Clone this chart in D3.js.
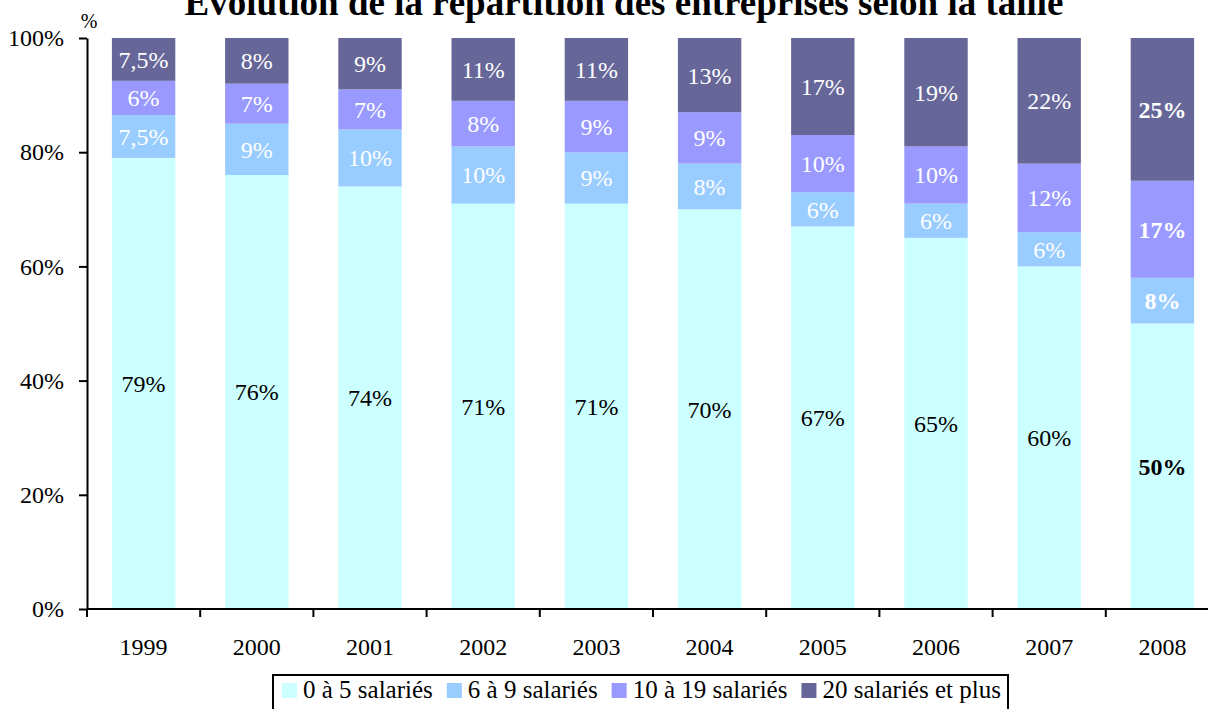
<!DOCTYPE html>
<html>
<head>
<meta charset="utf-8">
<script src="https://cdn.jsdelivr.net/npm/d3@7"></script>
<style>
  body { margin: 0; background: #fff; }
  text { font-family: 'Liberation Serif', 'Times New Roman', Times, serif; }
</style>
</head>
<body>
<script>
let years = ['1999', '2000', '2001', '2002', '2003', '2004', '2005', '2006', '2007', '2008']
let seriesNames = ['0 à 5 salariés', '6 à 9 salariés', '10 à 19 salariés', '20 salariés et plus']
let colors = ['#ccffff', '#99ccff', '#9999ff', '#666699']

let s0to5 = [79, 76, 74, 71, 71, 70, 67, 65, 60, 50]
let s6to9 = [7.5, 9, 10, 10, 9, 8, 6, 6, 6, 8]
let s10to19 = [6, 7, 7, 8, 9, 9, 10, 10, 12, 17]
let s20plus = [7.5, 8, 9, 11, 11, 13, 17, 19, 22, 25]
let yTicks = [0, 20, 40, 60, 80, 100]

let width = 1208
let height = 709
let plotLeft = 87
let plotRight = 1219
let plotTop = 38
let plotBottom = 609
let serif = 'Liberation Serif'
let fontSize = 24

let svg = d3.select('body').append('svg')
    .attr('width', width)
    .attr('height', height)
    .style('display', 'block')

let xScale = d3.scaleBand()
    .domain(years)
    .range([plotLeft, plotRight])
    .padding(0)

let yScale = d3.scaleLinear()
    .domain([0, 100])
    .range([plotBottom, plotTop])

let barWidth = xScale.bandwidth() * 0.56

// stacked data
let rows = years.map((y, i) => ({
    year: y,
    s0: s0to5[i], s1: s6to9[i], s2: s10to19[i], s3: s20plus[i]
}))
let stack = d3.stack().keys(['s0', 's1', 's2', 's3'])(rows)

let fmt = v => String(Math.round(v * 10) / 10).replace('.', ',') + '%'

stack.forEach((layer, k) => {
    let g = svg.append('g')
    g.selectAll('rect')
        .data(layer)
        .enter()
        .append('rect')
        .attr('x', d => xScale(d.data.year) + (xScale.bandwidth() - barWidth) / 2)
        .attr('y', d => yScale(d[1]))
        .attr('width', barWidth)
        .attr('height', d => yScale(d[0]) - yScale(d[1]))
        .attr('fill', colors[k])

    g.selectAll('text')
        .data(layer)
        .enter()
        .append('text')
        .attr('x', d => xScale(d.data.year) + xScale.bandwidth() / 2)
        .attr('y', d => yScale((d[0] + d[1]) / 2))
        .attr('dy', '0.35em')
        .attr('text-anchor', 'middle')
        .attr('font-family', serif)
        .attr('font-size', fontSize)
        .attr('font-weight', d => d.data.year === '2008' ? 'bold' : 'normal')
        .attr('fill', k === 0 ? '#000' : '#fff')
        .text(d => fmt(d[1] - d[0]))
})

// y axis
let yAxis = d3.axisLeft(yScale)
    .tickValues(yTicks)
    .tickFormat(d => d + '%')
    .tickSizeInner(8)
    .tickSizeOuter(0)
    .tickPadding(15)

let gy = svg.append('g')
    .attr('transform', 'translate(' + plotLeft + ',0)')
    .call(yAxis)
    .attr('font-family', serif)
    .attr('font-size', fontSize)
gy.select('.domain').attr('stroke', '#000').attr('stroke-width', 2)
gy.selectAll('.tick line').attr('stroke', '#000').attr('stroke-width', 2)
gy.selectAll('.tick text').attr('fill', '#000')

// x axis line and boundary ticks
svg.append('line')
    .attr('x1', plotLeft).attr('x2', width)
    .attr('y1', plotBottom).attr('y2', plotBottom)
    .attr('stroke', '#000').attr('stroke-width', 2)

svg.selectAll('line.xtick')
    .data(years)
    .enter()
    .append('line')
    .attr('class', 'xtick')
    .attr('x1', d => xScale(d)).attr('x2', d => xScale(d))
    .attr('y1', plotBottom).attr('y2', plotBottom + 8)
    .attr('stroke', '#000').attr('stroke-width', 2)

svg.selectAll('text.xlabel')
    .data(years)
    .enter()
    .append('text')
    .attr('class', 'xlabel')
    .attr('x', d => xScale(d) + xScale.bandwidth() / 2)
    .attr('y', plotBottom + 46)
    .attr('text-anchor', 'middle')
    .attr('font-family', serif)
    .attr('font-size', fontSize)
    .text(d => d)

// "%" unit label
svg.append('text')
    .attr('x', 89)
    .attr('y', 28)
    .attr('text-anchor', 'middle')
    .attr('font-family', serif)
    .attr('font-size', 20)
    .text('%')

// title (cut at top, as in the original)
svg.append('text')
    .attr('x', 624)
    .attr('y', 15)
    .attr('text-anchor', 'middle')
    .attr('font-family', serif)
    .attr('font-size', 37)
    .attr('font-weight', 'bold')
    .text('Evolution de la répartition des entreprises selon la taille')

// legend
let legend = svg.append('g')
legend.append('rect')
    .attr('x', 273).attr('y', 675)
    .attr('width', 735).attr('height', 50)
    .attr('fill', '#fff')
    .attr('stroke', '#000').attr('stroke-width', 2)

let lx = 282
seriesNames.forEach((name, i) => {
    legend.append('rect')
        .attr('x', lx).attr('y', 683)
        .attr('width', 15).attr('height', 15)
        .attr('fill', colors[i])
    let t = legend.append('text')
        .attr('x', lx + 21)
        .attr('y', 698)
        .attr('font-family', serif)
        .attr('font-size', 25)
        .text(name)
    lx += 21 + t.node().getComputedTextLength() + 14
})
</script>
</body>
</html>
